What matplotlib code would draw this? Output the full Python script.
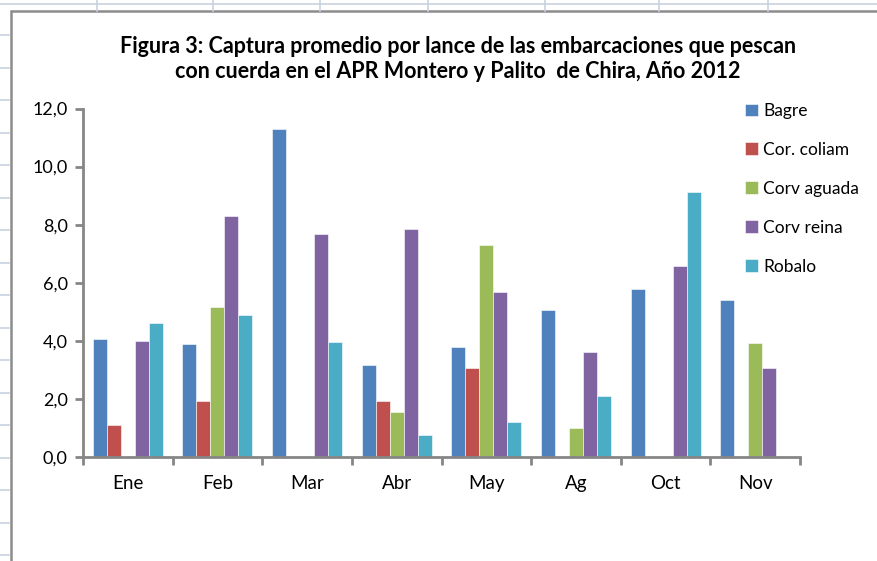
import numpy as np
import matplotlib
matplotlib.use("Agg")
from matplotlib import pyplot as plt
from matplotlib import lines, patches

plt.rcParams['font.family'] = ['Lato', 'DejaVu Sans']

# data
meses = ["Ene", "Feb", "Mar", "Abr", "May", "Ag", "Oct", "Nov"]
especies = ["Bagre", "Cor. coliam", "Corv aguada", "Corv reina", "Robalo"]
bagre = [4.06, 3.90, 11.31, 3.16, 3.78, 5.07, 5.78, 5.40]
cor_coliam = [1.10, 1.94, 0.0, 1.94, 3.06, 0.0, 0.0, 0.0]
corv_aguada = [0.0, 5.18, 0.0, 1.54, 7.30, 0.99, 0.0, 3.94]
corv_reina = [4.00, 8.29, 7.68, 7.86, 5.68, 3.61, 6.57, 3.05]
robalo = [4.62, 4.90, 3.95, 0.76, 1.22, 2.10, 9.14, 0.0]
series = [bagre, cor_coliam, corv_aguada, corv_reina, robalo]
colores = ["#4F81BD", "#C0504D", "#9BBB59", "#8064A2", "#4BACC6"]
titulo = ("Figura 3: Captura promedio por lance de las embarcaciones que pescan\n"
          "con cuerda en el APR Montero y Palito  de Chira, Año 2012")

W, H = 877, 561
fig = plt.figure(figsize=(W / 100, H / 100), dpi=100)

# spreadsheet background behind the chart object
grid_c = "#C8D2E0"
for x in [97, 213, 320, 428, 545, 659, 768]:
    fig.add_artist(lines.Line2D([x / W, x / W], [1, 1 - 11 / H],
                                color=grid_c, lw=1.2))
fig.add_artist(lines.Line2D([0, 1], [1 - 3.5 / H, 1 - 3.5 / H],
                            color=grid_c, lw=1.2))
for y in np.arange(35, H, 32.5):
    fig.add_artist(lines.Line2D([0, 9 / W], [1 - y / H, 1 - y / H],
                                color=grid_c, lw=1.2))
# chart frame
fig.add_artist(patches.Rectangle((10.5 / W, -0.1), 1.2, 1 - 11 / H + 0.1,
                                 transform=fig.transFigure, fill=False,
                                 edgecolor="#8C8C8C", lw=1.8))

ax = fig.add_axes([83 / W, 1 - 457 / H, (800 - 83) / W, (457 - 108.5) / H])
x = np.arange(len(meses))
bw = 0.156
for i, (vals, nombre, c) in enumerate(zip(series, especies, colores)):
    ax.bar(x + (i - 2) * bw, vals, bw, color=c, label=nombre,
           edgecolor="white", linewidth=0.4)

ax.set_xlim(-0.5, len(meses) - 0.5)
ax.set_ylim(0, 12)
ax.set_yticks(np.arange(0, 12.1, 2))
ax.set_yticklabels([("%.1f" % v).replace(".", ",") for v in np.arange(0, 12.1, 2)],
                   fontsize=13)
ax.set_xticks(x)
ax.set_xticklabels(meses, fontsize=13.5)
ax.set_xticks(np.arange(-0.5, len(meses)), minor=True)
ax.tick_params(axis="x", which="major", length=0, pad=13)
ax.tick_params(axis="x", which="minor", length=6, width=2, color="#868686")
ax.tick_params(axis="y", length=6, width=2, color="#868686", pad=5)
for s in ["top", "right"]:
    ax.spines[s].set_visible(False)
for s in ["left", "bottom"]:
    ax.spines[s].set_color("#868686")
    ax.spines[s].set_linewidth(2)

fig.text(0.522, 1 - 59 / H, titulo, ha="center", va="center",
         fontsize=15.5, fontweight="bold", linespacing=1.2)

leg = fig.legend(loc="upper left", bbox_to_anchor=(738 / W, 1 - 96 / H),
                 frameon=False, fontsize=12.5, handlelength=0.75,
                 handleheight=0.75, handletextpad=0.3, labelspacing=1.32,
                 borderaxespad=0)

fig.savefig("out.png", dpi=100)
